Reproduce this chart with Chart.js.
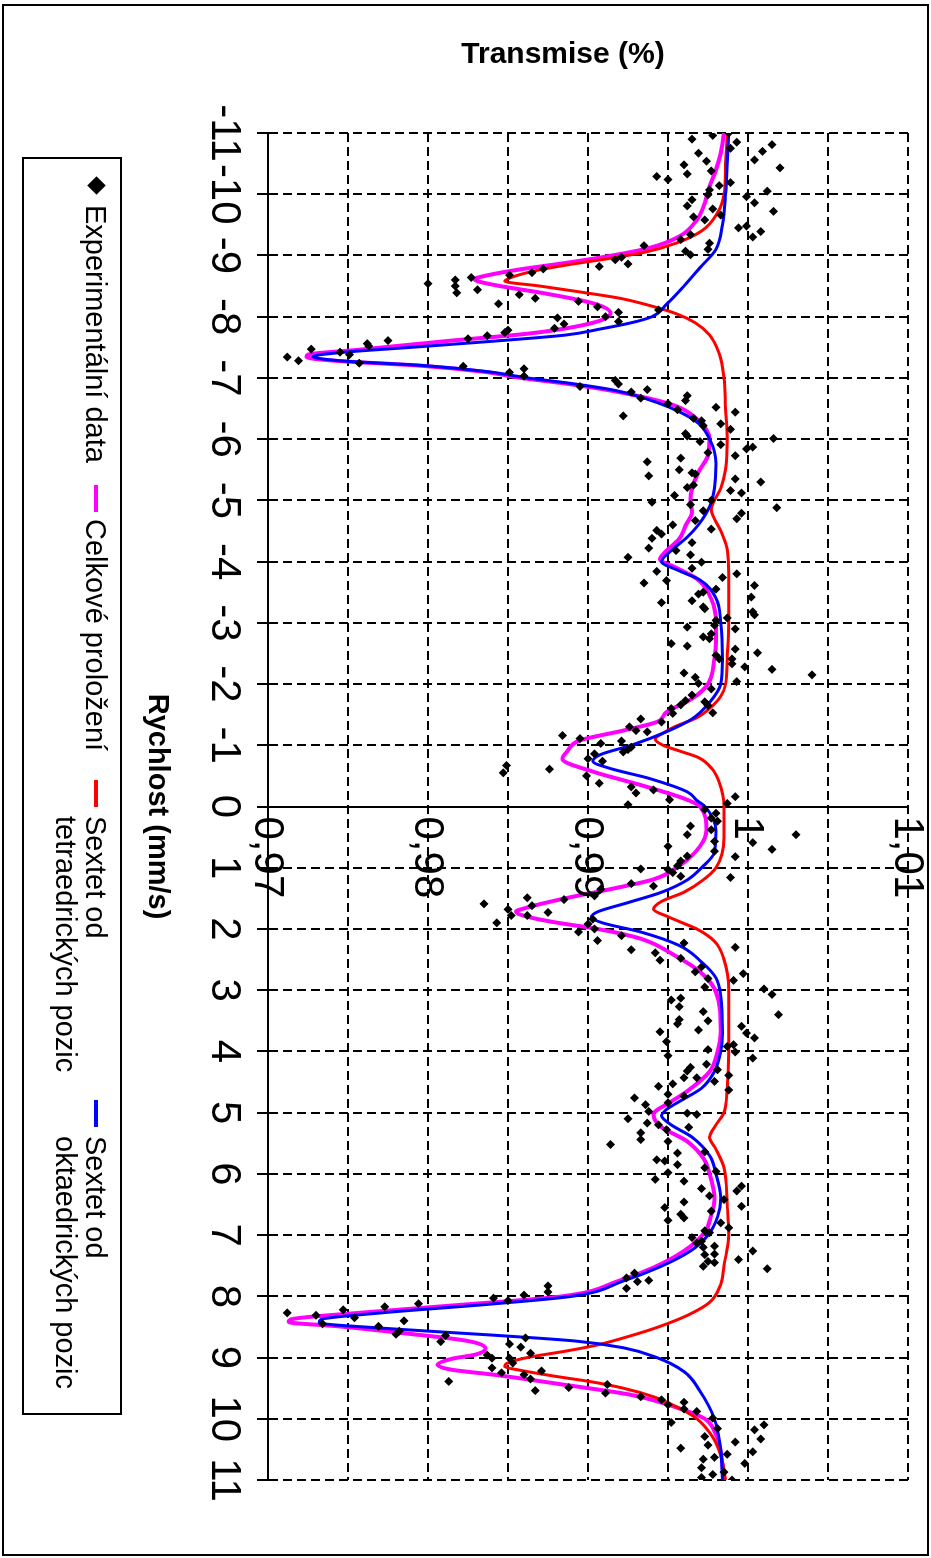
<!DOCTYPE html>
<html>
<head>
<meta charset="utf-8">
<script src="https://cdn.jsdelivr.net/npm/chart.js"></script>
<style>
html,body{margin:0;padding:0;background:#fff;overflow:hidden;width:931px;height:1558px;}
#wrap{position:absolute;left:0;top:0;width:1558px;height:931px;transform-origin:0 0;transform:translate(931px,0) rotate(90deg);background:#fff;font-family:"Liberation Sans",Arial,sans-serif;}
#c{position:absolute;left:0;top:0;width:1558px;height:931px;}
#frame{position:absolute;left:4px;top:2px;width:1552px;height:927px;border:2px solid #000;box-sizing:border-box;pointer-events:none;}
#legend{position:absolute;left:157px;top:809px;width:1258px;height:100px;border:2px solid #000;box-sizing:border-box;font-size:29px;color:#000;background:#fff;}
.it{position:absolute;top:9px;line-height:30px;white-space:nowrap;}
.mk{position:absolute;top:22px;height:4px;width:27px;}
.dm{position:absolute;left:20px;top:17px;width:13px;height:13px;background:#000;transform:rotate(45deg);}
</style>
</head>
<body>
<div id="wrap">
  <canvas id="c" width="1558" height="931"></canvas>
  <div id="legend">
    <div class="dm"></div>
    <div class="it" style="left:46px">Experimentální data</div>
    <div class="mk" style="left:326px;background:#ff00ff"></div>
    <div class="it" style="left:360px">Celkové proložení</div>
    <div class="mk" style="left:621px;background:#ff0000"></div>
    <div class="it" style="left:657px">Sextet od<br>tetraedrických pozic</div>
    <div class="mk" style="left:941px;background:#0000ff"></div>
    <div class="it" style="left:977px">Sextet od<br>oktaedrických pozic</div>
  </div>
  <div id="frame"></div>
</div>
<script>
// ---- axis ticks ----
const velocityTicks = [-11,-10,-9,-8,-7,-6,-5,-4,-3,-2,-1,0,1,2,3,4,5,6,7,8,9,10,11];
const transmissionGrid = [0.97,0.975,0.98,0.985,0.99,0.995,1.0,1.005,1.01];
const transmissionLabelValues = [0.97,0.98,0.99,1.0,1.01];
const transmissionLabels = ['0,97','0,98','0,99','1','1,01'];

// ---- experimental data (velocity mm/s, transmission) ----
const expVelocity = [
-11.00,-10.90,-10.96,-10.85,-10.75,-10.81,-10.70,-10.56,-10.67,-10.54,-10.48,-10.38,-10.43,-10.29,-10.24,-10.33,-10.14,-10.19,-10.07,-9.99,
-10.05,-9.96,-9.91,-9.86,-9.81,-9.76,-9.72,-9.63,-9.58,-9.66,-9.45,-9.48,-9.39,-9.30,-9.26,-9.34,-9.20,-9.16,-9.10,-9.07,
-9.01,-8.97,-8.93,-8.86,-8.82,-8.78,-8.72,-8.68,-8.64,-8.60,-8.54,-8.50,-8.39,-8.44,-8.36,-8.30,-8.21,-8.25,-8.16,-8.07,
-8.00,-8.11,-7.92,-7.98,-7.88,-7.81,-7.78,-7.74,-7.69,-7.64,
-7.56,-7.52,-7.61,-7.47,-7.42,-7.38,-7.34,-7.28,-7.24,-7.19,-7.09,-7.15,-7.03,-6.86,-6.96,-6.90,-6.77,-6.81,-6.67,-6.71,
-6.63,-6.58,-6.48,-6.52,-6.44,-6.38,-6.34,-6.30,-6.22,-6.25,-6.16,-6.09,-6.05,-5.96,-5.91,-6.01,-5.84,-5.87,-5.78,-5.73,
-5.69,-5.63,-5.50,-5.45,-5.40,-5.43,-5.35,-5.30,-5.25,-5.21,-5.16,-5.12,-5.08,-4.97,-5.00,-4.93,-4.88,-4.83,-4.79,-4.70,
-4.67,-4.60,-4.53,-4.51,-4.45,-4.38,-4.22,-4.31,-4.18,-4.11,-4.07,
-3.99,-3.89,-3.84,-3.69,-3.65,-3.74,-3.80,-3.55,-3.61,-3.50,-3.47,-3.36,-3.42,-3.33,-3.26,-3.23,-3.18,-3.13,-3.08,-3.04,
-2.96,-2.93,-2.90,-2.82,-2.77,-2.74,-2.66,-2.62,-2.57,-2.51,-2.47,-2.41,-2.41,-2.33,-2.28,-2.24,-2.15,-2.18,-2.11,-2.01,
-2.04,-1.92,-1.82,-1.73,-1.66,-1.71,-1.65,-1.53,-1.60,-1.52,-1.38,-1.43,-1.30,-1.24,-1.22,-1.16,-1.11,-1.03,-1.07,-0.97,
-0.93,-0.89,-0.86,-0.78,-0.74,-0.67,-0.55,-0.61,-0.50,
-0.38,-0.32,-0.22,-0.27,-0.11,-0.03,-0.16,-0.05,0.05,0.11,0.19,0.24,0.32,0.46,0.38,0.57,0.59,0.70,0.46,0.65,
0.73,0.81,0.89,0.97,1.08,0.82,1.16,1.02,1.14,1.03,1.30,1.26,1.35,1.46,1.52,1.49,1.62,1.59,1.68,1.78,
1.90,1.78,1.73,1.84,1.92,2.05,2.00,2.19,2.11,2.34,2.39,2.51,2.48,2.23,2.30,2.70,2.62,2.81,2.95,2.84,
2.73,2.98,3.07,
3.16,3.13,3.27,3.35,3.40,3.50,3.48,3.55,3.65,3.68,3.59,3.70,3.78,3.84,3.89,3.92,4.01,3.97,4.07,4.11,
4.26,4.32,4.21,4.43,4.43,4.30,4.49,4.39,4.63,4.57,4.53,4.70,4.76,4.87,4.73,4.84,4.98,5.01,5.03,5.10,
5.17,5.20,5.24,5.33,5.44,5.28,5.52,5.47,5.66,5.64,5.77,5.79,5.85,5.90,5.96,5.98,6.09,6.12,6.24,6.36,
6.28,6.20,6.42,6.46,6.55,6.61,6.53,6.66,
6.76,6.72,6.80,6.88,6.93,6.96,7.04,7.10,7.13,7.20,7.18,7.26,7.32,7.31,7.40,7.43,7.45,7.51,7.55,7.62,
7.70,7.76,7.74,7.83,7.93,7.87,7.98,8.03,8.07,8.12,8.17,8.22,8.27,8.31,8.35,8.45,8.40,8.49,8.57,8.62,
8.64,8.74,8.68,8.78,8.83,8.93,8.96,9.01,9.01,9.09,9.17,9.25,9.28,9.35,9.22,9.39,9.54,9.49,9.44,9.58,
9.64,9.69,9.77,9.73,9.88,9.84,10.06,9.99,10.16,10.29,10.43,10.48,10.38,10.18,10.10,10.33,10.54,10.63,10.58,10.73,
10.66,10.80,10.87,10.91,10.96,11.00
];
const expTransmission = [
0.9988,0.9965,0.9978,0.9993,0.9989,1.0015,1.0009,1.0004,0.9969,0.9974,0.9960,0.9977,1.0020,0.9943,0.9950,0.9962,0.9982,0.9989,0.9976,0.9975,
1.0012,0.9999,0.9965,1.0004,0.9962,0.9978,1.0016,0.9966,0.9973,0.9983,0.9994,0.9999,1.0008,1.0003,0.9958,0.9964,0.9976,0.9935,0.9975,0.9961,
0.9964,0.9921,0.9917,0.9925,0.9907,0.9872,0.9865,0.9851,0.9827,0.9817,0.9800,0.9817,0.9818,0.9831,0.9857,0.9867,0.9844,0.9894,0.9906,0.9919,
0.9911,0.9944,0.9919,0.9881,0.9885,0.9879,0.9850,0.9848,0.9837,0.9825,
0.9762,0.9763,0.9775,0.9727,0.9745,0.9751,0.9712,0.9719,0.9757,0.9822,0.9851,0.9860,0.9860,0.9895,0.9917,0.9919,0.9927,0.9937,0.9933,0.9962,
0.9961,0.9950,0.9956,0.9980,0.9992,0.9922,0.9966,0.9971,0.9972,0.9983,0.9989,0.9961,0.9962,0.9970,0.9983,1.0016,0.9999,1.0003,0.9975,0.9992,
0.9958,0.9937,0.9957,0.9965,0.9938,0.9967,0.9992,1.0008,0.9966,0.9962,0.9989,0.9996,0.9954,0.9940,0.9977,0.9964,1.0018,0.9972,0.9996,0.9993,
0.9967,0.9953,0.9977,0.9943,0.9946,0.9940,0.9938,0.9965,0.9955,0.9964,0.9925,
0.9971,0.9965,0.9943,0.9949,0.9935,0.9984,0.9993,0.9980,1.0004,0.9972,0.9969,0.9965,1.0002,0.9946,0.9972,0.9973,1.0003,1.0004,0.9987,0.9980,
0.9979,0.9962,0.9992,0.9977,0.9972,0.9976,0.9952,0.9962,0.9992,1.0006,0.9980,0.9982,0.9990,0.9990,0.9998,1.0015,1.0040,0.9960,0.9967,0.9969,
0.9993,0.9977,0.9965,0.9961,0.9958,0.9973,0.9975,0.9978,0.9952,0.9953,0.9946,0.9933,0.9926,0.9930,0.9937,0.9884,0.9895,0.9908,0.9921,0.9927,
0.9925,0.9922,0.9904,0.9900,0.9909,0.9849,0.9847,0.9876,0.9899,
0.9907,0.9927,0.9930,0.9941,0.9951,0.9925,0.9992,0.9987,0.9973,0.9980,0.9977,0.9981,0.9964,0.9962,0.9977,0.9979,1.0003,1.0015,1.0030,0.9950,
0.9979,0.9962,0.9958,0.9956,0.9953,0.9992,0.9989,0.9933,0.9958,0.9950,0.9941,0.9927,0.9908,0.9904,0.9885,0.9862,0.9865,0.9835,0.9850,0.9852,
0.9843,0.9862,0.9875,0.9903,0.9900,0.9894,0.9904,0.9906,0.9921,0.9927,0.9942,0.9945,0.9958,0.9960,0.9992,0.9967,0.9971,0.9975,0.9973,0.9991,
0.9997,1.0010,1.0015,
0.9952,0.9958,0.9957,0.9972,1.0019,0.9975,0.9957,0.9956,0.9969,0.9945,0.9996,0.9999,1.0004,0.9949,0.9991,0.9987,0.9992,0.9975,0.9950,1.0003,
0.9964,0.9962,0.9974,0.9960,0.9968,0.9981,0.9979,0.9988,0.9988,0.9944,0.9953,0.9950,0.9929,0.9936,0.9960,0.9950,0.9938,0.9962,0.9968,0.9925,
0.9937,0.9944,0.9963,0.9933,0.9933,0.9949,0.9914,0.9950,0.9956,0.9973,0.9943,0.9948,0.9956,0.9973,0.9980,0.9950,0.9942,0.9960,0.9971,0.9976,
0.9993,0.9996,0.9985,0.9960,0.9948,0.9977,0.9996,0.9958,
0.9950,0.9960,0.9983,0.9988,0.9973,0.9976,0.9965,0.9971,0.9968,0.9972,0.9979,1.0003,0.9973,0.9979,0.9994,0.9975,0.9979,0.9972,1.0012,0.9929,
0.9924,0.9931,0.9938,0.9875,0.9875,0.9924,0.9860,0.9841,0.9850,0.9794,0.9773,0.9747,0.9712,0.9730,0.9754,0.9734,0.9785,0.9769,0.9782,0.9780,
0.9811,0.9808,0.9861,0.9851,0.9858,0.9864,0.9837,0.9840,0.9851,0.9853,0.9840,0.9846,0.9860,0.9864,0.9871,0.9813,0.9867,0.9888,0.9912,0.9911,
0.9933,0.9946,0.9950,0.9960,0.9968,0.9960,0.9952,0.9978,0.9981,0.9973,0.9975,0.9958,0.9992,1.0004,1.0010,1.0008,1.0003,0.9979,0.9987,0.9998,
0.9972,0.9971,0.9985,0.9978,0.9971,0.9990
];

// ---- fitted curves ----
const totalVelocity = [-11,-10.67,-10.4,-10.13,-9.86,-9.58,-9.31,-9.12,-8.98,-8.87,-8.77,-8.68,-8.61,-8.52,-8.38,-8.22,-8.06,-7.9,-7.73,-7.6,
-7.46,-7.38,-7.34,-7.28,-7.2,-7.1,-7.0,-6.9,-6.77,-6.55,-6.33,-6.0,-5.73,-5.46,-5.19,-5.0,-4.81,-4.59,-4.37,-4.15,
-4.04,-3.9,-3.72,-3.39,-3.0,-2.68,-2.41,-2.0,-1.76,-1.54,-1.38,-1.24,-1.08,-0.9,-0.78,-0.57,-0.35,-0.13,0,0.38,
0.65,0.97,1.19,1.35,1.51,1.65,1.72,1.8,1.89,2.0,2.16,2.43,2.7,3.03,3.67,4.0,4.33,4.65,4.82,5.03,
5.22,5.47,5.74,6.0,6.41,6.68,6.95,7.26,7.53,7.75,8.0,8.13,8.27,8.38,8.42,8.49,8.6,8.73,8.85,8.95,
9.02,9.12,9.2,9.28,9.44,9.61,9.83,10.0,10.26,10.54,11];
const totalTransmission = [0.9985,0.9983,0.9980,0.9976,0.9973,0.9968,0.9957,0.9938,0.9911,0.9884,0.9857,0.9838,0.9829,0.9841,0.9873,0.9903,0.9914,0.9903,0.9865,0.9811,
0.9757,0.9725,0.9724,0.9742,0.9795,0.9835,0.9858,0.9888,0.9919,0.9954,0.9968,0.9976,0.9975,0.9969,0.9965,0.9964,0.9965,0.9961,0.9957,0.9948,
0.9945,0.9955,0.9968,0.9977,0.9980,0.9980,0.9979,0.9975,0.9965,0.9949,0.9943,0.9922,0.9895,0.9887,0.9884,0.9903,0.9933,0.9960,0.9970,0.9974,
0.9970,0.9957,0.9941,0.9914,0.9884,0.9862,0.9855,0.9862,0.9879,0.9906,0.9933,0.9954,0.9970,0.9980,0.9983,0.9981,0.9976,0.9962,0.9952,0.9941,
0.9945,0.9962,0.9972,0.9976,0.9979,0.9977,0.9973,0.9960,0.9941,0.9919,0.9884,0.9825,0.9757,0.9714,0.9713,0.9744,0.9784,0.9825,0.9836,0.9830,
0.9815,0.9806,0.9815,0.9841,0.9884,0.9927,0.9957,0.9973,0.9980,0.9983,0.9985];

const tetraVelocity = [-11,-10.5,-10,-9.7,-9.4,-9.2,-9.05,-8.95,-8.85,-8.75,-8.65,-8.58,-8.5,-8.4,-8.3,-8.2,-8.05,-7.9,-7.7,-7.4,
-7,-6.5,-6,-5.5,-5.2,-5,-4.85,-4.7,-4.5,-4.2,-3.8,-3,-2.4,-2,-1.8,-1.6,-1.45,-1.3,-1.2,-1.1,
-1,-0.9,-0.8,-0.6,-0.4,0,0.5,1,1.2,1.4,1.55,1.68,1.8,1.9,2,2.2,2.5,3,4,4.6,
5,5.2,5.4,5.6,5.9,6.5,7,7.5,7.8,8.1,8.3,8.5,8.65,8.8,8.9,9,9.1,9.15,9.2,9.3,
9.4,9.5,9.65,9.8,10,10.3,10.6,11];
const tetraTransmission = [0.9987,0.9986,0.9985,0.9981,0.9971,0.9955,0.9935,0.9913,0.9888,0.9867,0.9853,0.9848,0.9870,0.9896,0.9920,0.9936,0.9955,0.9967,0.9976,0.9982,
0.9985,0.9986,0.9987,0.9986,0.9983,0.9979,0.9977,0.9979,0.9983,0.9987,0.9988,0.9988,0.9987,0.9986,0.9983,0.9976,0.9968,0.9954,0.9947,0.9942,
0.9947,0.9958,0.9969,0.9978,0.9982,0.9985,0.9985,0.9980,0.9972,0.9960,0.9946,0.9941,0.9950,0.9959,0.9968,0.9979,0.9985,0.9988,0.9988,0.9987,
0.9985,0.9980,0.9976,0.9980,0.9985,0.9987,0.9988,0.9985,0.9983,0.9976,0.9963,0.9944,0.9926,0.9905,0.9885,0.9862,0.9849,0.9848,0.9856,0.9878,
0.9903,0.9922,0.9942,0.9955,0.9968,0.9978,0.9983,0.9986];

const octaVelocity = [-11,-10.5,-10,-9.5,-9.1,-8.8,-8.5,-8.2,-8.0,-7.9,-7.8,-7.7,-7.6,-7.5,-7.42,-7.35,-7.28,-7.2,-7.1,-7.0,
-6.9,-6.8,-6.6,-6.3,-6.0,-5.6,-5.2,-4.9,-4.6,-4.4,-4.2,-4.0,-3.85,-3.7,-3.4,-3.0,-2.4,-2.0,-1.7,-1.43,
-1.22,-1.0,-0.85,-0.74,-0.62,-0.46,-0.24,-0.1,0,0.4,0.75,1.0,1.2,1.4,1.57,1.72,1.81,1.9,2.05,2.27,
2.54,2.8,3.1,3.7,4.0,4.33,4.6,4.82,4.95,5.05,5.2,5.4,5.7,6.0,6.4,6.7,7.0,7.26,7.53,7.75,
8.0,8.13,8.27,8.38,8.43,8.52,8.63,8.73,8.84,9.0,9.23,9.55,10,10.5,11];
const octaTransmission = [0.9988,0.9987,0.9986,0.9984,0.9980,0.9970,0.9960,0.9949,0.9940,0.9927,0.9908,0.9886,0.9841,0.9790,0.9748,0.9728,0.9745,0.9798,0.9838,0.9862,
0.9892,0.9916,0.9943,0.9967,0.9976,0.9980,0.9979,0.9976,0.9969,0.9962,0.9953,0.9946,0.9957,0.9970,0.9980,0.9983,0.9984,0.9983,0.9976,0.9965,
0.9949,0.9927,0.9908,0.9903,0.9914,0.9938,0.9962,0.9968,0.9973,0.9980,0.9979,0.9971,0.9962,0.9946,0.9925,0.9906,0.9902,0.9909,0.9933,0.9957,
0.9971,0.9980,0.9983,0.9984,0.9983,0.9979,0.9971,0.9957,0.9949,0.9946,0.9952,0.9965,0.9976,0.9980,0.9983,0.9981,0.9975,0.9964,0.9944,0.9922,
0.9890,0.9838,0.9771,0.9733,0.9732,0.9771,0.9838,0.9892,0.9922,0.9943,0.9960,0.9970,0.9979,0.9983,0.9984];

function pairs(xs, ys){
  const n = Math.min(xs.length, ys.length);
  const out = [];
  for (let i = 0; i < n; i++) out.push({x: xs[i], y: ys[i]});
  return out;
}

const FONT = '"Liberation Sans", Arial, sans-serif';
const TICK_FONT = '"Liberation Sans Narrow", "Arial Narrow", "Liberation Sans", Arial, sans-serif';
Chart.defaults.font.family = FONT;
Chart.defaults.color = '#000';

const yLabelPlugin = {
  id: 'transmissionLabels',
  afterDatasetsDraw(chart) {
    const {ctx, scales} = chart;
    const x0 = scales.x.getPixelForValue(0);
    ctx.save();
    ctx.font = '42px ' + TICK_FONT;
    ctx.fillStyle = '#000';
    ctx.textAlign = 'left';
    ctx.textBaseline = 'middle';
    transmissionLabelValues.forEach((v, i) => {
      ctx.fillText(transmissionLabels[i], x0 + 10, scales.y.getPixelForValue(v) + 1);
    });
    ctx.restore();
  }
};

new Chart(document.getElementById('c'), {
  type: 'scatter',
  data: {
    datasets: [
      {label: 'Experimentální data', data: pairs(expVelocity, expTransmission), pointStyle: 'rectRot', pointRadius: 4.5, pointHoverRadius: 4.5, backgroundColor: '#000', borderColor: '#000', borderWidth: 0, order: 0},
      {type: 'line', label: 'Sextet od oktaedrických pozic', data: pairs(octaVelocity, octaTransmission), borderColor: '#0000ff', borderWidth: 3, pointRadius: 0, fill: false, cubicInterpolationMode: 'monotone', order: 1},
      {type: 'line', label: 'Sextet od tetraedrických pozic', data: pairs(tetraVelocity, tetraTransmission), borderColor: '#ff0000', borderWidth: 3, pointRadius: 0, fill: false, cubicInterpolationMode: 'monotone', order: 2},
      {type: 'line', label: 'Celkové proložení', data: pairs(totalVelocity, totalTransmission), borderColor: '#ff00ff', borderWidth: 4, pointRadius: 0, fill: false, cubicInterpolationMode: 'monotone', order: 3}
    ]
  },
  options: {
    responsive: false,
    animation: false,
    devicePixelRatio: 1,
    layout: {padding: {top: 23, right: 78, left: 0, bottom: 0}},
    plugins: {legend: {display: false}, tooltip: {enabled: false}},
    scales: {
      x: {
        type: 'linear', position: 'bottom', min: -11, max: 11,
        afterBuildTicks: s => { s.ticks = velocityTicks.map(v => ({value: v})); },
        afterFit: s => { s.height = 268; },
        ticks: {autoSkip: false, maxRotation: 0, minRotation: 0, font: {size: 42, family: TICK_FONT}, padding: 8, color: '#000'},
        grid: {color: '#000', lineWidth: 2, drawTicks: true, tickLength: 11, tickColor: '#000', tickWidth: 2},
        border: {display: true, color: '#000', width: 2, dash: [9, 5]},
        title: {display: true, text: 'Rychlost (mm/s)', font: {size: 29, weight: 'bold'}, color: '#000', padding: {top: 0, bottom: 140}}
      },
      y: {
        type: 'linear', position: 'left', min: 0.97, max: 1.01,
        afterBuildTicks: s => { s.ticks = transmissionGrid.map(v => ({value: v})); },
        afterFit: s => { s.width = 133; },
        ticks: {display: false},
        grid: {color: '#000', lineWidth: 2, drawTicks: false},
        border: {display: false, dash: [9, 5]},
        title: {display: true, text: 'Transmise (%)      ', font: {size: 30, weight: 'bold'}, color: '#000', padding: {top: 37, bottom: 0}}
      },
      y0: {
        axis: 'y', type: 'linear', position: {x: 0}, min: 0.97, max: 1.01,
        ticks: {display: false},
        grid: {display: false, drawTicks: false},
        border: {display: true, color: '#000', width: 2}
      }
    }
  },
  plugins: [yLabelPlugin]
});
</script>
</body>
</html>
